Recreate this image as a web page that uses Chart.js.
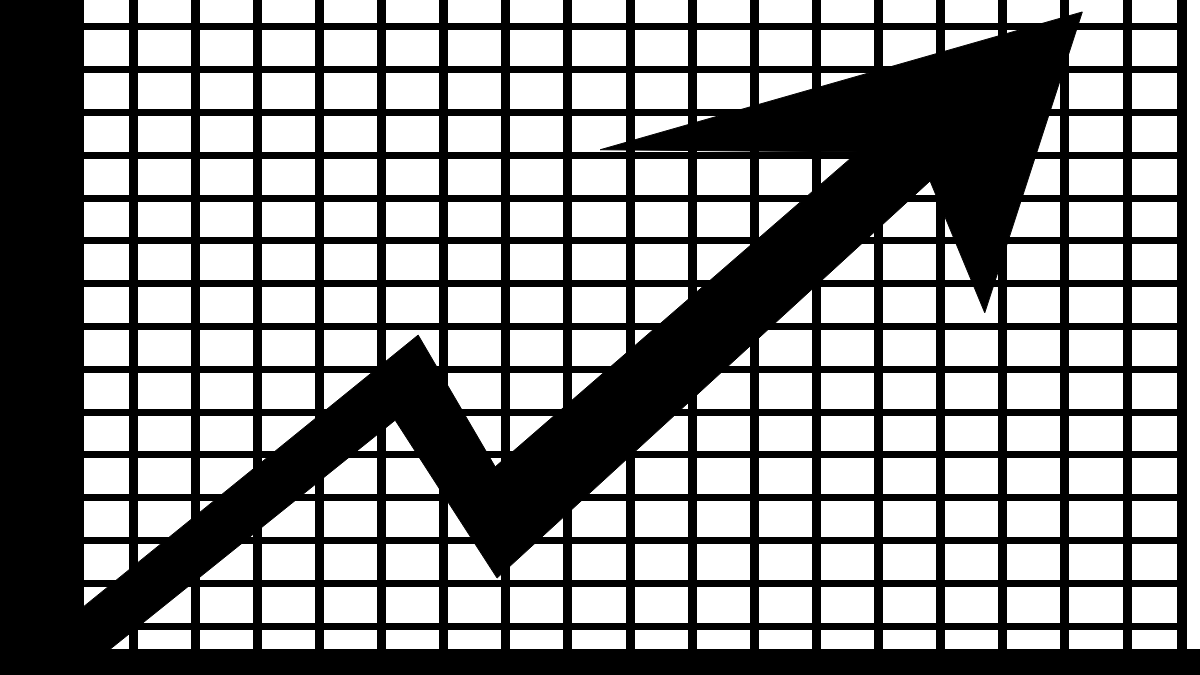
<!DOCTYPE html>
<html>
<head>
<meta charset="utf-8">
<title>Growth arrow</title>
<script src="https://cdn.jsdelivr.net/npm/chart.js@4.4.1/dist/chart.umd.min.js"></script>
<style>
  html, body { margin: 0; padding: 0; }
  body { width: 1200px; height: 675px; overflow: hidden; background: linear-gradient(#fff 649px, #000 649px); }
  #chart { display: block; }
</style>
</head>
<body>
<canvas id="chart" width="1200" height="675"></canvas>
<script>
// arrow outline, in grid units (1 unit = one grid cell)
var arrowX = [-0.46, 5.59, 6.83, 12.67, 8.52, 16.28, 14.71, 13.83, 6.86, 5.22, 0.12, -0.46, -0.46]
var arrowY = [0.67, 7.80, 4.72, 12.08, 12.13, 15.35, 8.32, 11.40, 2.12, 5.81, -0.14, -0.14, 0.67]

// visible range of the grid
var xRange = [-0.465, 17.885]
var yRange = [-0.145, 15.63]

var points = arrowX.map((x, i) => ({ x: x, y: arrowY[i] }))

var ctx = document.getElementById('chart').getContext('2d')

var chart = new Chart(ctx, {
  type: 'scatter',
  data: {
    datasets: [{
      data: points,
      showLine: true,
      fill: 'shape',
      backgroundColor: '#000',
      borderColor: '#000',
      borderWidth: 1,
      pointRadius: 0,
      tension: 0
    }]
  },
  options: {
    responsive: false,
    animation: false,
    layout: { padding: { left: 42, right: 18, top: 0, bottom: 0 } },
    plugins: { legend: { display: false }, tooltip: { enabled: false } },
    scales: {
      x: {
        type: 'linear',
        min: xRange[0],
        max: xRange[1],
        ticks: { display: false, stepSize: 1, includeBounds: false },
        grid: { color: '#000', lineWidth: 9, drawTicks: false },
        border: { color: '#000', width: 52 }
      },
      y: {
        type: 'linear',
        min: yRange[0],
        max: yRange[1],
        ticks: { display: false, stepSize: 1, includeBounds: false },
        grid: { color: '#000', lineWidth: 7, drawTicks: false },
        border: { color: '#000', width: 84 }
      },
      y2: {
        type: 'linear',
        position: 'right',
        ticks: { display: false },
        grid: { display: false, drawTicks: false },
        border: { color: '#000', width: 10 }
      }
    }
  }
})
</script>
</body>
</html>
